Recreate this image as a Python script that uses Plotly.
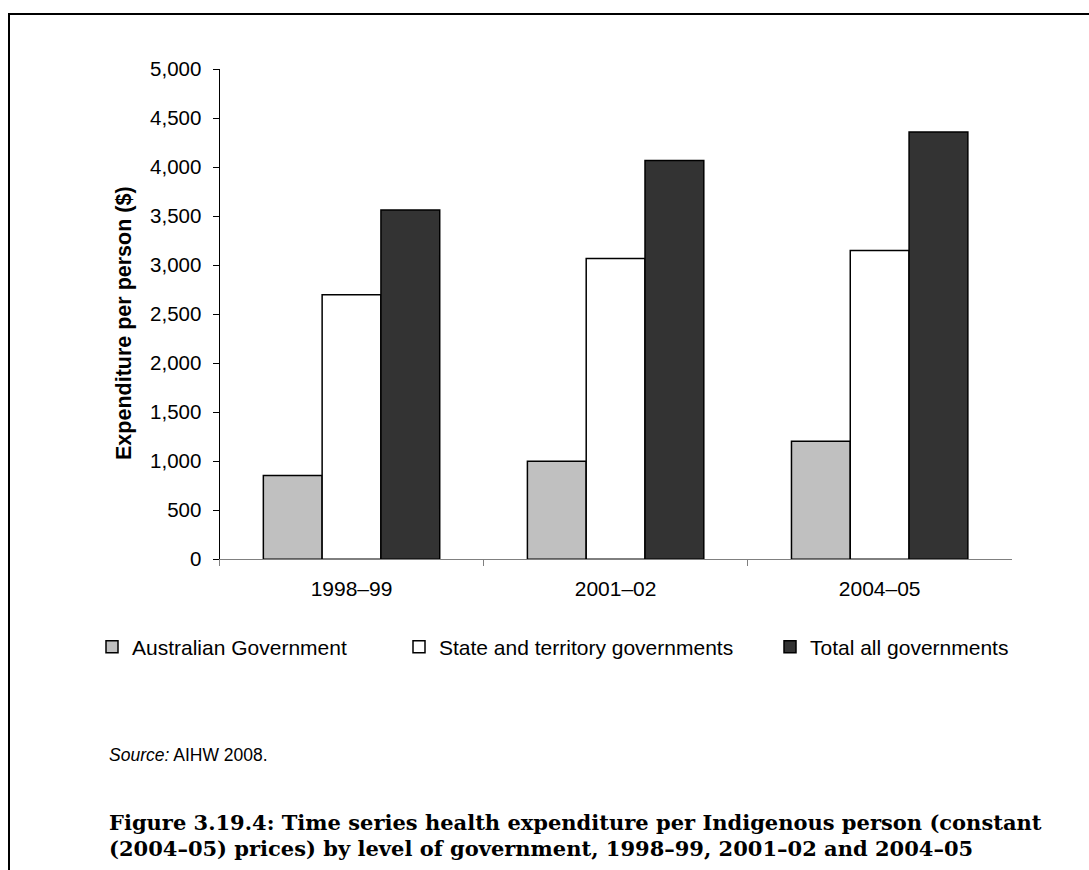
import plotly.graph_objects as go

# Health expenditure per Indigenous person, constant (2004-05) prices
years = ["1998–99", "2001–02", "2004–05"]
australian_gov = [855, 1000, 1205]
state_territory = [2700, 3070, 3150]
total_all = [3565, 4070, 4360]

series_names = ["Australian Government", "State and territory governments", "Total all governments"]
series_colors = ["#C0C0C0", "#FFFFFF", "#333333"]
series_values = [australian_gov, state_territory, total_all]

y_ticks = list(range(0, 5001, 500))

W, H = 1089, 870


def px_x(x):
    return x / W


def px_y(y):
    return 1 - y / H


fig = go.Figure()
legend_ids = ["legend", "legend2", "legend3"]
for name, color, vals, lg in zip(series_names, series_colors, series_values, legend_ids):
    fig.add_trace(go.Bar(
        x=years, y=vals, name=name,
        marker=dict(color=color, line=dict(color="#000000", width=1.5)),
        legend=lg, showlegend=True,
    ))

legend_common = dict(
    orientation="h", xanchor="left", yanchor="middle",
    font=dict(family="Liberation Sans, Arial, sans-serif", size=21, color="#000000"),
    bgcolor="rgba(0,0,0,0)", borderwidth=0, itemclick=False,
)
legend_x = [92, 399, 770]

fig.update_layout(
    template="none",
    width=W, height=H, autosize=False,
    margin=dict(l=0, r=0, t=0, b=0, pad=0),
    paper_bgcolor="#FFFFFF", plot_bgcolor="#FFFFFF",
    barmode="group", bargap=0.332, bargroupgap=0,
    showlegend=True,
    font=dict(family="Liberation Sans, Arial, sans-serif", color="#000000"),
    legend=dict(x=px_x(legend_x[0]), y=px_y(647), **legend_common),
    legend2=dict(x=px_x(legend_x[1]), y=px_y(647), **legend_common),
    legend3=dict(x=px_x(legend_x[2]), y=px_y(647), **legend_common),
    xaxis=dict(
        domain=[px_x(219.5), px_x(1011.7)],
        automargin=False,
        showline=True, linecolor="#808080", linewidth=1,
        ticks="outside", tickson="boundaries", ticklen=6, tickcolor="#808080",
        tickfont=dict(size=21, color="#000000"),
        ticklabelstandoff=10,
        showgrid=False, zeroline=False,
    ),
    yaxis=dict(
        domain=[px_y(559.3), px_y(69.3)],
        automargin=False,
        range=[0, 5000], tickvals=y_ticks, tickformat=",",
        showline=True, linecolor="#000000", linewidth=1,
        ticks="outside", ticklen=6, tickcolor="#000000",
        tickfont=dict(size=20.5, color="#000000"),
        ticklabelstandoff=7,
        showgrid=False, zeroline=False,
    ),
    shapes=[
        dict(type="line", xref="paper", yref="paper",
             x0=px_x(8), x1=1, y0=px_y(14), y1=px_y(14),
             line=dict(color="#000000", width=2)),
        dict(type="line", xref="paper", yref="paper",
             x0=px_x(9), x1=px_x(9), y0=px_y(13), y1=0,
             line=dict(color="#000000", width=2)),
    ],
    annotations=[
        dict(xref="paper", yref="paper", x=px_x(124), y=px_y(323),
             xanchor="center", yanchor="middle", showarrow=False, textangle=-90,
             text="<b>Expenditure per person ($)</b>",
             font=dict(family="Liberation Sans, Arial, sans-serif", size=21.5, color="#000000")),
        dict(xref="paper", yref="paper", x=px_x(107), y=px_y(755),
             xanchor="left", yanchor="middle", showarrow=False,
             text="<i>Source:</i> AIHW 2008.",
             font=dict(family="Liberation Sans, Arial, sans-serif", size=17.5, color="#000000")),
        dict(xref="paper", yref="paper", x=px_x(107), y=px_y(822),
             xanchor="left", yanchor="middle", showarrow=False,
             text="<b>Figure 3.19.4: Time series health expenditure per Indigenous person (constant</b>",
             font=dict(family="DejaVu Serif, serif", size=21, color="#000000")),
        dict(xref="paper", yref="paper", x=px_x(107), y=px_y(848),
             xanchor="left", yanchor="middle", showarrow=False,
             text="<b>(2004–05) prices) by level of government, 1998–99, 2001–02 and 2004–05</b>",
             font=dict(family="DejaVu Serif, serif", size=21, color="#000000")),
    ],
)

fig.write_html("out.html")
